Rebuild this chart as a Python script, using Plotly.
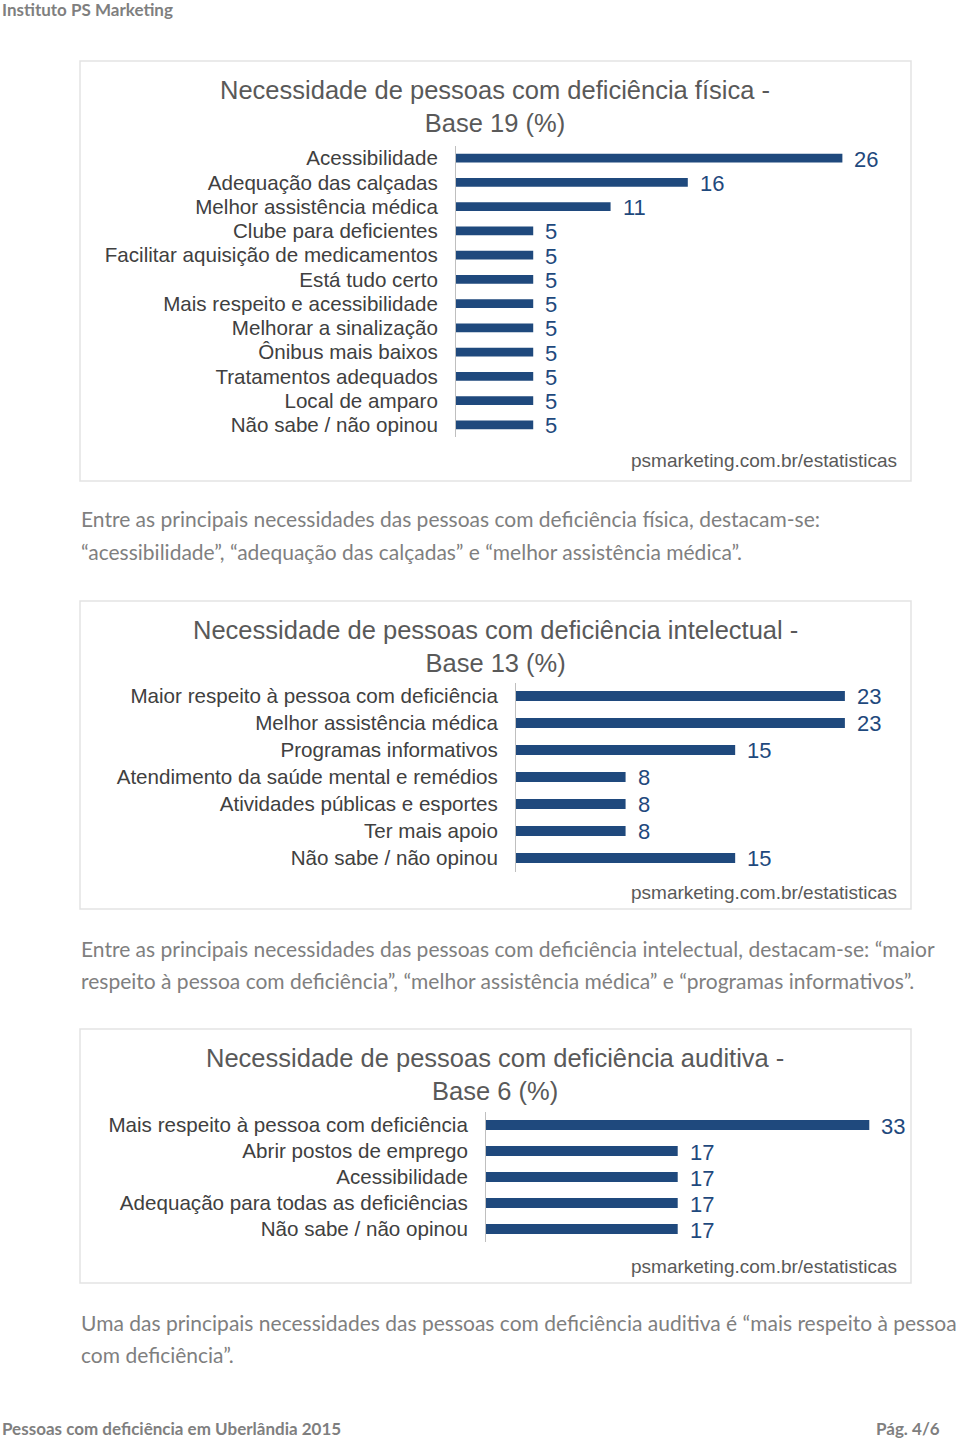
import plotly.graph_objects as go

W, H = 960, 1440

# ---------------- data ----------------
fisica_cats = ["Acessibilidade", "Adequação das calçadas", "Melhor assistência médica",
               "Clube para deficientes", "Facilitar aquisição de medicamentos", "Está tudo certo",
               "Mais respeito e acessibilidade", "Melhorar a sinalização", "Ônibus mais baixos",
               "Tratamentos adequados", "Local de amparo", "Não sabe / não opinou"]
fisica_vals = [26.32, 15.79, 10.53, 5.26, 5.26, 5.26, 5.26, 5.26, 5.26, 5.26, 5.26, 5.26]

intelectual_cats = ["Maior respeito à pessoa com deficiência", "Melhor assistência médica",
                    "Programas informativos", "Atendimento da saúde mental e remédios",
                    "Atividades públicas e esportes", "Ter mais apoio", "Não sabe / não opinou"]
intelectual_vals = [23.08, 23.08, 15.38, 7.69, 7.69, 7.69, 15.38]

auditiva_cats = ["Mais respeito à pessoa com deficiência", "Abrir postos de emprego",
                 "Acessibilidade", "Adequação para todas as deficiências", "Não sabe / não opinou"]
auditiva_vals = [33.33, 16.67, 16.67, 16.67, 16.67]

titles = ["Necessidade de pessoas com deficiência física -<br>Base 19 (%)",
          "Necessidade de pessoas com deficiência intelectual -<br>Base 13 (%)",
          "Necessidade de pessoas com deficiência auditiva -<br>Base 6 (%)"]
source = "psmarketing.com.br/estatisticas"

paragraphs = [
    ["Entre as principais necessidades das pessoas com deficiência física, destacam-se:",
     "“acessibilidade”, “adequação das calçadas” e “melhor assistência médica”."],
    ["Entre as principais necessidades das pessoas com deficiência intelectual, destacam-se: “maior",
     "respeito à pessoa com deficiência”, “melhor assistência médica” e “programas informativos”."],
    ["Uma das principais necessidades das pessoas com deficiência auditiva é “mais respeito à pessoa",
     "com deficiência”."],
]

# ---------------- layout geometry (pixels) ----------------
charts = [
    dict(cats=fisica_cats, vals=fisica_vals, x0=456, scale=14.68, top=146, bot=437,
         box=(80, 61, 911, 481), title_y=106.5, src_y=461, par_y=(519, 551), bar_w=0.37),
    dict(cats=intelectual_cats, vals=intelectual_vals, x0=516, scale=14.25, top=682.5, bot=871.5,
         box=(80, 601, 911, 909), title_y=646.5, src_y=892, par_y=(948, 980), bar_w=0.37),
    dict(cats=auditiva_cats, vals=auditiva_vals, x0=486, scale=11.5, top=1112, bot=1242,
         box=(80, 1029, 911, 1283), title_y=1074.5, src_y=1266, par_y=(1322, 1354), bar_w=0.38),
]

BAR = "#1F497D"
X_END = 905
CHART_FONT = "Liberation Sans, Arial"
BODY_FONT = "Lato"

def px(x):
    return x / W

def py(y):
    return 1 - y / H

fig = go.Figure()
annotations = []
shapes = []
layout_axes = {}

for i, c in enumerate(charts):
    n = i + 1
    xa = "x" if n == 1 else f"x{n}"
    ya = "y" if n == 1 else f"y{n}"
    fig.add_trace(go.Bar(
        x=c["vals"], y=c["cats"], orientation="h", xaxis=xa, yaxis=ya,
        marker=dict(color=BAR, line=dict(width=0)), width=c["bar_w"],
        hoverinfo="skip", showlegend=False))
    xmax = (X_END - c["x0"]) / c["scale"]
    layout_axes["xaxis" if n == 1 else f"xaxis{n}"] = dict(
        domain=[px(c["x0"]), px(X_END)], range=[0, xmax], visible=False,
        anchor=ya, fixedrange=True)
    layout_axes["yaxis" if n == 1 else f"yaxis{n}"] = dict(
        domain=[py(c["bot"]), py(c["top"])], anchor=xa, type="category",
        range=[len(c["cats"]) - 0.5, -0.5], showline=True, linecolor="#bfbfbf",
        linewidth=1, showgrid=False, zeroline=False, ticks="", ticklabelstandoff=13,
        tickmode="array", tickvals=c["cats"], ticktext=c["cats"],
        tickfont=dict(family=CHART_FONT, size=20.6, color="#404040"))
    # value labels
    for cat, v in zip(c["cats"], c["vals"]):
        annotations.append(dict(
            x=v, y=cat, xref=xa, yref=ya, text=f"{v:.0f}", showarrow=False,
            xanchor="left", xshift=10, yshift=-1,
            font=dict(family=CHART_FONT, size=22, color="#1F497D")))
    # title
    annotations.append(dict(
        x=px(495), y=py(c["title_y"]), xref="paper", yref="paper", text=titles[i],
        showarrow=False, xanchor="center", yanchor="middle",
        font=dict(family=CHART_FONT, size=25.5, color="#595959")))
    # source
    annotations.append(dict(
        x=px(899), y=py(c["src_y"]), xref="paper", yref="paper", text=source,
        showarrow=False, xanchor="right", yanchor="middle",
        font=dict(family=CHART_FONT, size=19, color="#595959")))
    # box
    bx0, by0, bx1, by1 = c["box"]
    shapes.append(dict(type="rect", xref="paper", yref="paper",
                       x0=px(bx0), x1=px(bx1), y0=py(by1), y1=py(by0),
                       line=dict(color="#e3e3e3", width=1.5), fillcolor="rgba(0,0,0,0)",
                       layer="below"))
    # paragraph
    for line, ly in zip(paragraphs[i], c["par_y"]):
        annotations.append(dict(
            x=px(79), y=py(ly), xref="paper", yref="paper", text=line,
            showarrow=False, xanchor="left", yanchor="middle",
            font=dict(family=BODY_FONT, size=21, color="#7f7f7f")))

# header / footer
annotations.append(dict(x=0, y=py(10), xref="paper", yref="paper",
                        text="<b>Instituto PS Marketing</b>", showarrow=False,
                        xanchor="left", yanchor="middle",
                        font=dict(family=BODY_FONT, size=17, color="#7f7f7f")))
annotations.append(dict(x=0, y=py(1428), xref="paper", yref="paper",
                        text="<b>Pessoas com deficiência em Uberlândia 2015</b>", showarrow=False,
                        xanchor="left", yanchor="middle",
                        font=dict(family=BODY_FONT, size=17, color="#7f7f7f")))
annotations.append(dict(x=px(942), y=py(1428), xref="paper", yref="paper",
                        text="<b>Pág. 4/6</b>", showarrow=False,
                        xanchor="right", yanchor="middle",
                        font=dict(family=BODY_FONT, size=17, color="#7f7f7f")))

fig.update_layout(
    width=W, height=H, margin=dict(l=0, r=0, t=0, b=0),
    paper_bgcolor="white", plot_bgcolor="white",
    annotations=annotations, shapes=shapes, **layout_axes)

fig.write_html("out.html", config={"displayModeBar": False},
               post_script="document.body.style.margin='0';document.body.style.padding='0';")
